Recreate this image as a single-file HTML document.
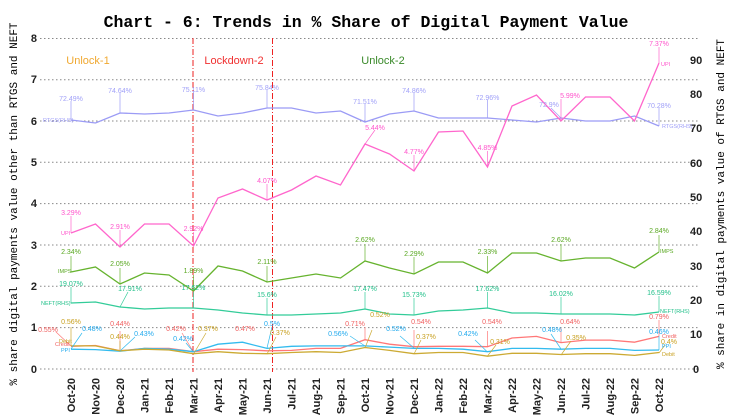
<!DOCTYPE html>
<html><head><meta charset="utf-8"><style>
html,body{margin:0;padding:0;background:#fff;}
svg{display:block;font-family:"Liberation Sans",sans-serif;}
.g{stroke:#888;stroke-width:1;stroke-dasharray:1.5,2.5;}
.t{font-size:11px;font-weight:bold;fill:#222;}
.xl{font-size:11px;font-weight:bold;fill:#222;}
.a{font-size:7px;}
.s{font-size:5.5px;}
</style></head><body>
<svg width="733" height="417" viewBox="0 0 733 417">
<text x="366" y="27" text-anchor="middle" font-family="Liberation Mono,monospace" font-weight="bold" font-size="16.5">Chart - 6: Trends in % Share of Digital Payment Value</text>
<g class="g">
<line x1="40" y1="38.5" x2="700" y2="38.5"/><line x1="40" y1="79.8" x2="700" y2="79.8"/>
<line x1="40" y1="121" x2="700" y2="121"/><line x1="40" y1="162.3" x2="700" y2="162.3"/>
<line x1="40" y1="203.6" x2="700" y2="203.6"/><line x1="40" y1="245" x2="700" y2="245"/>
<line x1="40" y1="286.3" x2="700" y2="286.3"/><line x1="40" y1="327.6" x2="700" y2="327.6"/>
<line x1="40" y1="369" x2="700" y2="369"/>
</g>
<g class="t" text-anchor="end">
<text x="37" y="42">8</text><text x="37" y="83">7</text><text x="37" y="125">6</text><text x="37" y="166">5</text>
<text x="37" y="207">4</text><text x="37" y="249">3</text><text x="37" y="290">2</text><text x="37" y="331">1</text><text x="37" y="373">0</text>
</g>
<g class="t" text-anchor="start">
<text x="690" y="64">90</text><text x="690" y="98">80</text><text x="690" y="132">70</text><text x="690" y="167">60</text>
<text x="690" y="201">50</text><text x="690" y="235">40</text><text x="690" y="270">30</text><text x="690" y="304">20</text>
<text x="690" y="338">10</text><text x="693" y="373">0</text>
</g>
<text transform="translate(17,204) rotate(-90)" text-anchor="middle" font-family="Liberation Mono,monospace" font-size="11">% share digital payments value other than RTGS and NEFT</text>
<text transform="translate(724,204) rotate(-90)" text-anchor="middle" font-family="Liberation Mono,monospace" font-size="11">% share in digital payments value of RTGS and NEFT</text>
<g stroke="#ee2222" stroke-width="1" stroke-dasharray="6,2,1,2">
<line x1="193" y1="38" x2="193" y2="372"/><line x1="272.5" y1="38" x2="272.5" y2="372"/>
</g>
<text x="88" y="64" fill="#f0a830" font-size="11" text-anchor="middle">Unlock-1</text>
<text x="234" y="64" fill="#f03030" font-size="11" text-anchor="middle">Lockdown-2</text>
<text x="383" y="64" fill="#3a8a2a" font-size="11" text-anchor="middle">Unlock-2</text>
<g fill="none" stroke-width="1.3">
<polyline stroke="#9b9bf5" points="71,120 95.5,123 120,113 144.5,114 169,113 193.5,110 218,116 242.5,113 267,108 291.5,108 316,113 340.5,111 365,122 389.5,114 414,111 438.5,118 463,118 487.5,118 512,120 536.5,122 561,118 585.5,121 610,121 634.5,116 659,126"/>
<polyline stroke="#ff66cc" points="71,233 95.5,224 120,247 144.5,224 169,224 193.5,246 218,198 242.5,189 267,200 291.5,190 316,176 340.5,185 365,144 389.5,154 414,171 438.5,132 463,131 487.5,167 512,106 536.5,95 561,121 585.5,97 610,97 634.5,121 659,63"/>
<polyline stroke="#66b32e" points="71,272 95.5,267 120,284 144.5,273 169,275 193.5,291 218,266 242.5,271 267,282 291.5,278 316,274 340.5,278 365,261 389.5,268 414,274 438.5,262 463,262 487.5,273 512,253 536.5,253 561,261 585.5,258 610,258 634.5,268 659,252"/>
<polyline stroke="#33cc99" points="71,303 95.5,302 120,307 144.5,309 169,308 193.5,308 218,310 242.5,313 267,315 291.5,315 316,314 340.5,313 365,309 389.5,314 414,315 438.5,311 463,310 487.5,308 512,313 536.5,313 561,314 585.5,314 610,314 634.5,315 659,312"/>
<polyline stroke="#ff7777" points="71,346.3 95.5,345.5 120,350.8 144.5,348.4 169,348.4 193.5,351.7 218,349.2 242.5,349.6 267,350.8 291.5,350.4 316,348.4 340.5,348.4 365,339.7 389.5,344.2 414,346.7 438.5,346.3 463,346.3 487.5,346.7 512,338 536.5,336.4 561,342.6 585.5,340.1 610,340.1 634.5,342.2 659,336.4"/>
<polyline stroke="#33bbee" points="71,349.2 95.5,349.6 120,351.2 144.5,348.4 169,349.2 193.5,351.7 218,344.2 242.5,342.2 267,348.4 291.5,346.3 316,345.9 340.5,345.9 365,345.9 389.5,347.1 414,348.4 438.5,348.4 463,349.2 487.5,351.7 512,348.4 536.5,348.4 561,349.2 585.5,348.4 610,348.4 634.5,350.4 659,350"/>
<polyline stroke="#ccaa33" points="71,345.9 95.5,345.9 120,350.8 144.5,349.2 169,350 193.5,353.7 218,351.7 242.5,353.3 267,353.7 291.5,352.5 316,351.7 340.5,352.5 365,347.5 389.5,350.4 414,353.7 438.5,352.5 463,352.5 487.5,356.2 512,353.3 536.5,353.3 561,354.5 585.5,353.7 610,353.7 634.5,355.4 659,352.5"/>
</g>
<g stroke-width="0.7" fill="none">
<g stroke="#9b9bf5"><path d="M71,120V101M120,113V93M193.5,110V92M267,108V90M365,122V104M414,111V93M487.5,118V100M561,118 551,108M659,126V108"/></g>
<g stroke="#ff66cc"><path d="M71,233V216M120,247V230M193.5,246V232M267,200V184M365,144 375,130M414,171V155M487.5,167V151M561,121V99M659,63V47"/></g>
<g stroke="#66b32e"><path d="M71,272V256M120,284V268M193.5,291V275M267,282V266M365,261V244M414,274V257M487.5,273V256M561,261V244M659,252V235"/></g>
<g stroke="#33cc99"><path d="M71,303V287M120,307 128,292M193.5,308V292M267,315V298M365,309V292M414,315V298M487.5,308V292M561,314V297M659,312V296"/></g>
<g stroke="#ff7777"><path d="M71,346 56,332M120,351V331M193.5,352 182,333M365,340V327M414,347V330M487.5,347V331M561,343V328M659,336V320"/></g>
<g stroke="#33bbee"><path d="M71,349 82,333M120,351 135,337M193.5,352 186,343M267,348 272,327M365,346 350,336M414,348 400,336M487.5,352 475,340M561,349 551,334M659,350V336"/></g>
<g stroke="#ccaa33"><path d="M71,346V327M120,351V341M193.5,354 206,333M267,354 276,337M365,348 372,330M414,354 421,340M487.5,356 496,345M561,355 571,341M659,353 665,345"/></g>
</g>
<g class="a" text-anchor="middle" fill="#a0a0f8">
<text x="71" y="101">72.49%</text><text x="120" y="93">74.64%</text><text x="193.5" y="92">75.11%</text><text x="267" y="90">75.84%</text>
<text x="365" y="104">71.51%</text><text x="414" y="93">74.86%</text><text x="487.5" y="100">72.96%</text><text x="549" y="107">72.9%</text><text x="659" y="108">70.28%</text>
</g>
<text x="43" y="122" class="s" fill="#a0a0f8">RTGS(RHS)</text>
<text x="662" y="128" class="s" fill="#a0a0f8">RTGS(RHS)</text>
<g class="a" text-anchor="middle" fill="#ff55cc">
<text x="71" y="215">3.29%</text><text x="120" y="229">2.91%</text><text x="193.5" y="231">2.92%</text><text x="267" y="183">4.07%</text>
<text x="375" y="130">5.44%</text><text x="414" y="154">4.77%</text><text x="487.5" y="150">4.85%</text><text x="570" y="98">5.99%</text><text x="659" y="46">7.37%</text>
</g>
<text x="61" y="235" class="s" fill="#ff55cc">UPI</text><text x="661" y="66" class="s" fill="#ff55cc">UPI</text>
<g class="a" text-anchor="middle" fill="#5aa822">
<text x="71" y="254">2.34%</text><text x="120" y="266">2.05%</text><text x="193.5" y="273">1.89%</text><text x="267" y="264">2.11%</text>
<text x="365" y="242">2.62%</text><text x="414" y="256">2.29%</text><text x="487.5" y="254">2.33%</text><text x="561" y="242">2.62%</text><text x="659" y="233">2.84%</text>
</g>
<text x="58" y="273" class="s" fill="#5aa822">IMPS</text><text x="660" y="253" class="s" fill="#5aa822">IMPS</text>
<g class="a" text-anchor="middle" fill="#22c08a">
<text x="71" y="286">19.07%</text><text x="130" y="291">17.91%</text><text x="193.5" y="290">17.62%</text><text x="267" y="297">15.6%</text>
<text x="365" y="291">17.47%</text><text x="414" y="297">15.73%</text><text x="487.5" y="291">17.62%</text><text x="561" y="296">16.02%</text><text x="659" y="295">16.59%</text>
</g>
<text x="41" y="305" class="s" fill="#22c08a">NEFT(RHS)</text><text x="660" y="313" class="s" fill="#22c08a">NEFT(RHS)</text>
<g class="a" text-anchor="middle" fill="#f06060">
<text x="48" y="332">0.55%</text><text x="120" y="326">0.44%</text><text x="176" y="331">0.42%</text><text x="245" y="331">0.47%</text>
<text x="355" y="326">0.71%</text><text x="421" y="324">0.54%</text><text x="492" y="324">0.54%</text><text x="570" y="324">0.64%</text><text x="659" y="319">0.79%</text>
</g>
<text x="662" y="338" class="s" fill="#f06060">Credit</text><text x="55" y="346" class="s" fill="#f06060">Credit</text>
<g class="a" text-anchor="middle" fill="#22aaee">
<text x="92" y="331">0.48%</text><text x="144" y="336">0.43%</text><text x="183" y="341">0.42%</text><text x="272" y="326">0.5%</text>
<text x="338" y="336">0.56%</text><text x="396" y="331">0.52%</text><text x="468" y="336">0.42%</text><text x="552" y="332">0.48%</text><text x="659" y="334">0.46%</text>
</g>
<text x="61" y="352" class="s" fill="#22aaee">PPI</text><text x="662" y="348" class="s" fill="#22aaee">PPI</text>
<g class="a" text-anchor="middle" fill="#c8a020">
<text x="71" y="324">0.56%</text><text x="120" y="339">0.44%</text><text x="208" y="331">0.37%</text><text x="280" y="335">0.37%</text>
<text x="380" y="317">0.52%</text><text x="426" y="339">0.37%</text><text x="500" y="344">0.31%</text><text x="576" y="340">0.35%</text><text x="669" y="344">0.4%</text>
</g>
<text x="59" y="343" class="s" fill="#c8a020">Debit</text><text x="662" y="356" class="s" fill="#c8a020">Debit</text>
<g class="xl" text-anchor="end">
<text transform="translate(75,378) rotate(-90)">Oct-20</text>
<text transform="translate(99.5,378) rotate(-90)">Nov-20</text>
<text transform="translate(124,378) rotate(-90)">Dec-20</text>
<text transform="translate(148.5,378) rotate(-90)">Jan-21</text>
<text transform="translate(173,378) rotate(-90)">Feb-21</text>
<text transform="translate(197.5,378) rotate(-90)">Mar-21</text>
<text transform="translate(222,378) rotate(-90)">Apr-21</text>
<text transform="translate(246.5,378) rotate(-90)">May-21</text>
<text transform="translate(271,378) rotate(-90)">Jun-21</text>
<text transform="translate(295.5,378) rotate(-90)">Jul-21</text>
<text transform="translate(320,378) rotate(-90)">Aug-21</text>
<text transform="translate(344.5,378) rotate(-90)">Sep-21</text>
<text transform="translate(369,378) rotate(-90)">Oct-21</text>
<text transform="translate(393.5,378) rotate(-90)">Nov-21</text>
<text transform="translate(418,378) rotate(-90)">Dec-21</text>
<text transform="translate(442.5,378) rotate(-90)">Jan-22</text>
<text transform="translate(467,378) rotate(-90)">Feb-22</text>
<text transform="translate(491.5,378) rotate(-90)">Mar-22</text>
<text transform="translate(516,378) rotate(-90)">Apr-22</text>
<text transform="translate(540.5,378) rotate(-90)">May-22</text>
<text transform="translate(565,378) rotate(-90)">Jun-22</text>
<text transform="translate(589.5,378) rotate(-90)">Jul-22</text>
<text transform="translate(614,378) rotate(-90)">Aug-22</text>
<text transform="translate(638.5,378) rotate(-90)">Sep-22</text>
<text transform="translate(663,378) rotate(-90)">Oct-22</text>
</g>
</svg>
</body></html>
